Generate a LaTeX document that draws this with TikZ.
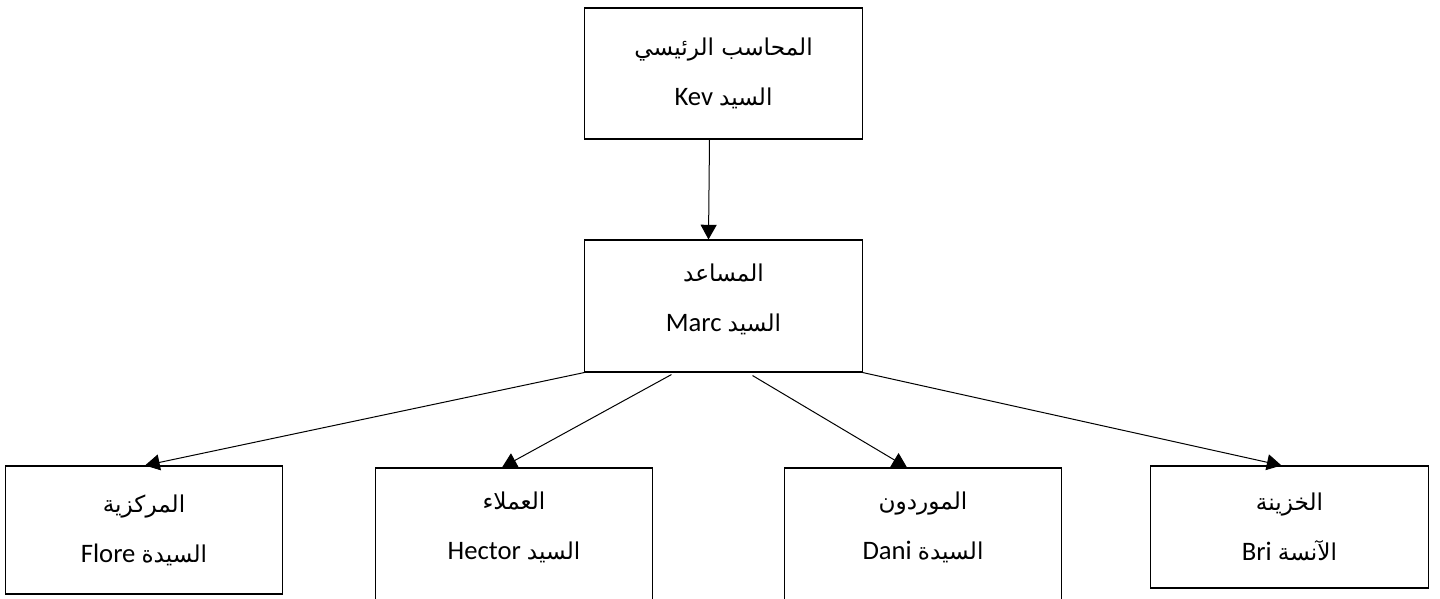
\documentclass[tikz,border=0pt]{standalone}
\usepackage{fontspec}
\setmainfont{Carlito}
\newfontfamily\arabicfont[Script=Arabic,Scale=0.87]{DejaVu Sans}
\TeXXeTstate=1
\usetikzlibrary{arrows.meta,calc}
\newcommand{\artxt}[1]{{\arabicfont\beginR #1\endR}}
\newcommand{\nom}[2]{\beginR{\arabicfont #1} \beginL #2\endL\endR}
\begin{document}
\begin{tikzpicture}[x=0.75pt,y=-0.75pt,
    poste/.style={draw,line width=0.8pt,minimum width=208pt,align=center,
        font=\fontsize{20}{24}\selectfont},
    lien/.style={line width=0.75pt,-{Triangle[width=12pt,length=11pt]}}]

    \useasboundingbox[fill=white] (0,0) rectangle (1440,599);

    \node[poste,minimum height=98.25pt] (chef) at (723.5,73.5)
        {\artxt{المحاسب الرئيسي}\\[13.5pt]\nom{السيد}{Kev}};
    \node[poste,minimum height=99pt,text depth=12pt] (adj) at (723.5,306)
        {\artxt{المساعد}\\[13.5pt]\nom{السيد}{Marc}};

    \node[poste,minimum height=96pt] (centr) at (144,530)
        {\artxt{المركزية}\\[13.5pt]\nom{السيدة}{Flore}};
    \node[poste,minimum height=105pt,text depth=19pt] (clients) at (514,538)
        {\artxt{العملاء}\\[13.5pt]\nom{السيد}{Hector}};
    \node[poste,minimum height=105pt,text depth=19pt] (fourn) at (923,538)
        {\artxt{الموردون}\\[13.5pt]\nom{السيدة}{Dani}};
    \node[poste,minimum height=91.5pt] (treso) at (1289.5,527)
        {\artxt{الخزينة}\\[13.5pt]\nom{الآنسة}{Bri}};

    \draw[lien] ($(chef.south)+(-14,0)$) -- ($(adj.north)+(-15,0)$);
    \draw[lien] (adj.south west) -- ($(centr.north)+(1,0)$);
    \draw[lien] ($(adj.south)+(-52,2)$) -- ($(clients.north)+(-12,0)$);
    \draw[lien] ($(adj.south)+(29,3)$) -- ($(fourn.north)+(-16,0)$);
    \draw[lien] (adj.south east) -- ($(treso.north)+(-8,0)$);

\end{tikzpicture}
\end{document}
